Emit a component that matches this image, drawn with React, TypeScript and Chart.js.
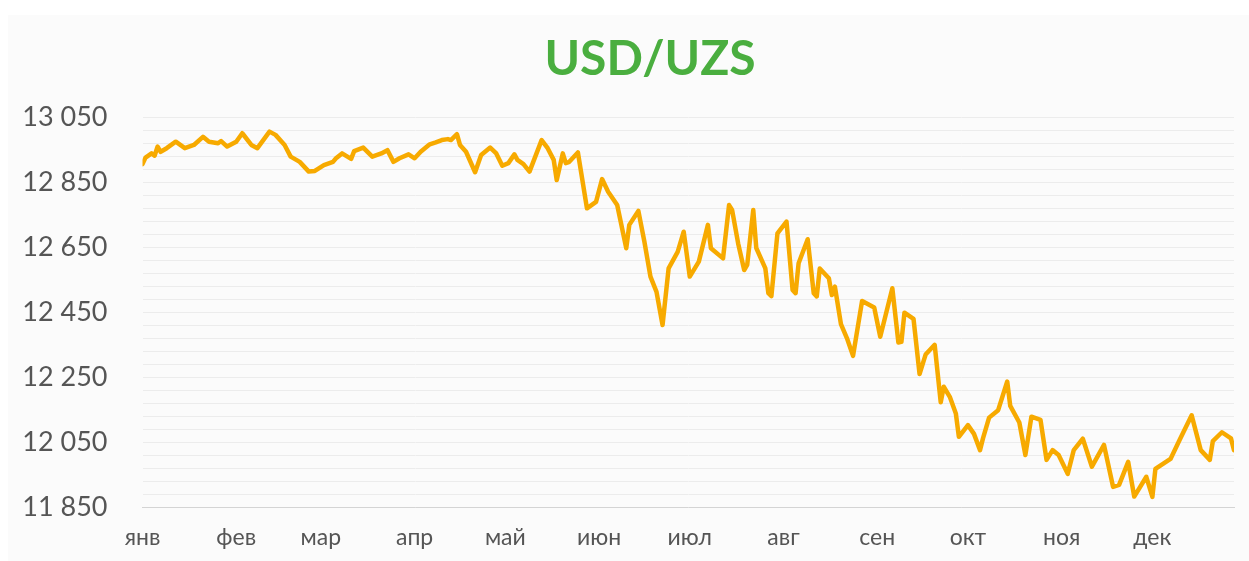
import React, { useEffect, useRef } from "react";
import { Chart, registerables } from "chart.js";

Chart.register(...registerables);

const titleText = "USD/UZS";
const monthLabels = ["янв", "фев", "мар", "апр", "май", "июн", "июл", "авг", "сен", "окт", "ноя", "дек"];
const monthStartDays = [0, 31, 59, 90, 120, 151, 181, 212, 243, 273, 304, 334];
const yLabelValues = [11850, 12050, 12250, 12450, 12650, 12850, 13050];
const yGridStep = 40;
const lastDay = 361;

// day of year of each quote
const days = [
  0, 1, 3, 4, 5, 6, 8, 11, 14, 17, 20, 22, 25, 26, 28, 31, 33, 36, 38, 42, 44, 47, 49, 52, 55, 57, 60, 63,
  64, 66, 69, 70, 73, 76, 79, 81, 83, 85, 88, 90, 92, 95, 97, 99, 101, 102, 104, 105, 107, 110, 112, 115, 117, 119, 121, 123, 124, 126, 128,
  132, 134, 136, 137, 139, 140, 141, 144, 147, 150, 152, 154, 157, 160, 161, 164, 166, 168, 170, 172, 174, 177, 179, 181, 184, 187, 188, 192,
  194, 195, 197, 199, 200, 202, 203, 206, 207, 208, 210, 213, 215, 216, 217, 220, 222, 223, 224, 227, 228, 229, 231, 233, 235, 238, 242, 244,
  248, 250, 251, 252, 255, 257, 259, 262, 264, 265, 267, 269, 270, 273, 275, 277, 278, 280, 283, 286, 287, 290, 292, 294, 297, 299, 301, 303,
  306, 308, 311, 314, 318, 321, 323, 326, 328, 332, 334, 335, 340, 343, 347, 350, 353, 354, 357, 360, 361,
];

// USD/UZS rate
const rates = [
  12905, 12925, 12938, 12931, 12959, 12943, 12954, 12974, 12954, 12964, 12989, 12974, 12969, 12976, 12959, 12974, 13000, 12964, 12954, 13005, 12995, 12964, 12928, 12912, 12882, 12884, 12902, 12912,
  12923, 12938, 12921, 12945, 12956, 12928, 12938, 12948, 12912, 12923, 12935, 12923, 12943, 12966, 12972, 12979, 12982, 12979, 12997, 12964, 12943, 12880, 12933, 12956, 12938, 12900, 12908, 12935, 12918, 12905, 12882,
  12979, 12954, 12918, 12856, 12938, 12908, 12911, 12941, 12769, 12789, 12859, 12820, 12779, 12646, 12718, 12761, 12666, 12559, 12512, 12410, 12584, 12635, 12697, 12559, 12605, 12718, 12646, 12615,
  12779, 12764, 12661, 12579, 12595, 12764, 12647, 12584, 12508, 12499, 12692, 12728, 12518, 12508, 12600, 12674, 12508, 12498, 12584, 12554, 12502, 12528, 12413, 12369, 12315, 12484, 12464, 12374,
  12523, 12356, 12358, 12448, 12429, 12259, 12319, 12349, 12172, 12220, 12189, 12138, 12066, 12102, 12075, 12025, 12062, 12125, 12148, 12236, 12161, 12110, 12010, 12128, 12118, 11995, 12025, 12010,
  11952, 12025, 12060, 11974, 12041, 11912, 11918, 11989, 11882, 11943, 11881, 11967, 11998, 12056, 12132, 12025, 11995, 12053, 12080, 12061, 12025,
];

function fmt(v: number): string {
  const th = Math.floor(v / 1000);
  const rest = String(Math.round(v % 1000)).padStart(3, "0");
  return th + " " + rest;
}

const titlePlugin = {
  id: "centeredTitle",
  afterDraw(chart: any) {
    const ctx = chart.ctx;
    ctx.save();
    ctx.font = "bold 48px Lato";
    ctx.fillStyle = "#4AAE3F";
    ctx.textAlign = "center";
    ctx.textBaseline = "middle";
    ctx.fillText(titleText, chart.width / 2 + 21.5, 45);
    ctx.restore();
  },
};

export default function App() {
  const ref = useRef<HTMLCanvasElement | null>(null);

  useEffect(() => {
    if (!ref.current) return;
    const yMin = yLabelValues[0];
    const yMax = yLabelValues[yLabelValues.length - 1];
    const chart = new Chart(ref.current, {
      type: "line",
      data: {
        datasets: [
          {
            data: days.map((d, i) => ({ x: d, y: rates[i] })),
            borderColor: "#F7AA00",
            borderWidth: 4.5,
            pointRadius: 0,
            tension: 0,
            borderJoinStyle: "round",
            borderCapStyle: "round",
            fill: false,
          },
        ],
      },
      options: {
        animation: false,
        responsive: true,
        maintainAspectRatio: false,
        layout: { padding: { left: 0, right: 15, top: 102, bottom: 0 } },
        plugins: {
          legend: { display: false },
          tooltip: { enabled: false },
          title: { display: false },
        },
        scales: {
          x: {
            type: "linear",
            min: 0,
            max: lastDay,
            grid: { display: false },
            border: { display: true, color: "#d4d4d4", width: 1 },
            afterBuildTicks: (s: any) => {
              s.ticks = monthStartDays.map((v) => ({ value: v }));
            },
            afterFit: (s: any) => {
              s.height = 54;
            },
            ticks: {
              autoSkip: false,
              maxRotation: 0,
              padding: 9,
              color: "#555555",
              font: { family: "Lato", size: 23 },
              callback: (v: any) => {
                const i = monthStartDays.indexOf(Number(v));
                return i >= 0 ? monthLabels[i] : "";
              },
            },
          },
          y: {
            type: "linear",
            min: yMin,
            max: yMax,
            grid: { color: "#ececec", lineWidth: 1, drawTicks: false },
            border: { display: false },
            afterBuildTicks: (s: any) => {
              const t: { value: number }[] = [];
              for (let v = yMin; v <= yMax; v += yGridStep) t.push({ value: v });
              s.ticks = t;
            },
            afterFit: (s: any) => {
              s.width = 134.5;
            },
            ticks: {
              autoSkip: false,
              padding: 35,
              color: "#555555",
              font: { family: "Lato", size: 27 },
              callback: (v: any) => (yLabelValues.indexOf(Number(v)) >= 0 ? fmt(Number(v)) : ""),
            },
          },
        },
      },
      plugins: [titlePlugin],
    });
    return () => chart.destroy();
  }, []);

  return (
    <div
      style={{
        position: "fixed",
        left: 8,
        top: 15,
        right: 0,
        bottom: 0,
        background: "#fbfbfb",
      }}
    >
      <canvas ref={ref} />
    </div>
  );
}
